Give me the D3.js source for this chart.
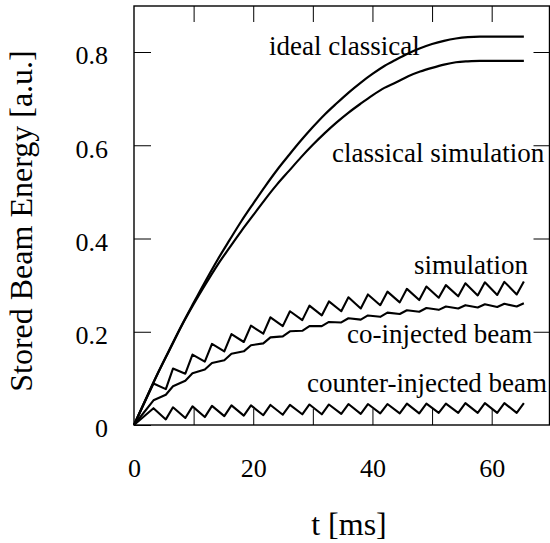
<!DOCTYPE html>
<html>
<head>
<meta charset="utf-8">
<script src="https://cdn.jsdelivr.net/npm/d3@7"></script>
<style>
  html, body { margin: 0; padding: 0; background: #fff; }
  svg { display: block; }
  text { font-family: "Liberation Serif", "Times New Roman", serif; fill: #000; }
</style>
</head>
<body>
<svg id="chart" width="550" height="543"></svg>
<script>
// ---- data ----
const tSmooth = [0,2,4,6,8,10,12,14,16,18,20,22,24,26,28,30,32,34,36,38,40,42,44,46,48,50,52,54,56,58,60,62,64,65.4];
const idealClassical = [0,0.056,0.111,0.163,0.214,0.262,0.309,0.354,0.396,0.437,0.475,0.512,0.547,0.579,0.610,0.639,0.666,0.690,0.713,0.734,0.753,0.770,0.784,0.797,0.808,0.817,0.824,0.829,0.832,0.833,0.833,0.833,0.833,0.833];
const classicalSimulation = [0,0.056,0.111,0.162,0.213,0.259,0.302,0.343,0.380,0.416,0.450,0.484,0.516,0.545,0.574,0.601,0.626,0.649,0.670,0.689,0.707,0.723,0.735,0.748,0.758,0.766,0.773,0.778,0.780,0.781,0.781,0.781,0.781,0.781];

const tPulse = [0,3.27,5.34,6.54,8.61,9.81,11.88,13.08,15.15,16.35,18.42,19.62,21.69,22.89,24.96,26.16,28.23,29.43,31.50,32.70,34.77,35.97,38.04,39.24,41.31,42.51,44.58,45.78,47.85,49.05,51.12,52.32,54.39,55.59,57.66,58.86,60.93,62.13,64.20,65.40];
const simulation = [0,0.089,0.077,0.121,0.110,0.151,0.136,0.174,0.158,0.195,0.178,0.213,0.196,0.231,0.212,0.244,0.225,0.256,0.235,0.265,0.244,0.274,0.250,0.280,0.257,0.286,0.263,0.292,0.268,0.297,0.273,0.300,0.276,0.304,0.278,0.306,0.279,0.307,0.280,0.308];
const coInjected = [0,0.053,0.065,0.083,0.095,0.111,0.119,0.133,0.139,0.153,0.158,0.171,0.175,0.188,0.190,0.201,0.202,0.212,0.212,0.221,0.220,0.229,0.226,0.235,0.232,0.241,0.238,0.246,0.243,0.251,0.247,0.254,0.250,0.257,0.252,0.259,0.253,0.260,0.254,0.261];
const counterInjected = [0,0.036,0.012,0.038,0.015,0.040,0.017,0.041,0.019,0.042,0.020,0.042,0.021,0.043,0.022,0.043,0.023,0.044,0.023,0.044,0.024,0.045,0.024,0.045,0.025,0.045,0.025,0.046,0.025,0.046,0.026,0.046,0.026,0.047,0.026,0.047,0.026,0.047,0.026,0.047];

const xTickValues = [10,20,30,40,50,60];
const xLabelValues = [0,20,40,60];
const yTickValues = [0,0.2,0.4,0.6,0.8];
const yTickLabels = ["0","0.2","0.4","0.6","0.8"];
const seriesNames = ["ideal classical","classical simulation","simulation","co-injected beam","counter-injected beam"];
const xTitle = "t [ms]";
const yTitle = "Stored Beam Energy [a.u.]";

// ---- layout ----
const svg = d3.select("#chart");
const mLeft = 134, mRight = 549.5, mTop = 6, mBottom = 425;
const x = d3.scaleLinear().domain([0, 69.7]).range([mLeft, mRight]);
const y = d3.scaleLinear().domain([0, 0.9]).range([mBottom, mBottom - 0.9 * 466.25]);

// axes
const gl = svg.append("g").attr("transform", `translate(${mLeft},0)`)
  .call(d3.axisLeft(y).tickValues(yTickValues).tickSizeInner(-17).tickSizeOuter(0).tickPadding(26)
    .tickFormat((d, i) => yTickLabels[i]));
gl.selectAll("text").attr("font-size", 26).attr("dy", "0.46em");

svg.append("g").attr("transform", `translate(${mRight},0)`)
  .call(d3.axisRight(y).tickValues(yTickValues.slice(1)).tickSizeInner(-16).tickSizeOuter(0).tickFormat(""));

svg.append("g").attr("transform", `translate(0,${mTop})`)
  .call(d3.axisTop(x).tickValues(xTickValues).tickSizeInner(-16).tickSizeOuter(0).tickFormat(""));

svg.append("g").attr("transform", `translate(0,${mBottom})`)
  .call(d3.axisBottom(x).tickValues(xTickValues).tickSizeInner(-16).tickSizeOuter(0).tickFormat(""));

const gbl = svg.append("g").attr("transform", `translate(0,${mBottom})`)
  .call(d3.axisBottom(x).tickValues(xLabelValues).tickSize(0).tickPadding(33.5).tickFormat(d3.format("d")));
gbl.selectAll("text").attr("font-size", 26);

svg.selectAll(".domain").remove();
svg.selectAll(".tick line").attr("stroke", "#000").attr("stroke-width", 1);
svg.selectAll("g text").attr("font-family", '"Liberation Serif", "Times New Roman", serif').attr("fill", "#000");

// frame
svg.append("rect").attr("x", mLeft).attr("y", mTop).attr("width", mRight - mLeft).attr("height", mBottom - mTop)
  .attr("fill", "none").attr("stroke", "#000").attr("stroke-width", 1.4);

// curves
const lineSmooth = d3.line().x(d => x(d[0])).y(d => y(d[1])).curve(d3.curveMonotoneX);
const linePulse = d3.line().x(d => x(d[0])).y(d => y(d[1])).curve(d3.curveLinear);

[idealClassical, classicalSimulation].forEach(s => {
  svg.append("path").datum(tSmooth.map((t, i) => [t, s[i]]))
    .attr("d", lineSmooth).attr("fill", "none").attr("stroke", "#000").attr("stroke-width", 2.2);
});
[simulation, coInjected, counterInjected].forEach(s => {
  svg.append("path").datum(tPulse.map((t, i) => [t, s[i]]))
    .attr("d", linePulse).attr("fill", "none").attr("stroke", "#000").attr("stroke-width", 2.1)
    .attr("stroke-linejoin", "round");
});

// annotations (pixel anchor points)
const annPos = [[269, 55], [332, 162], [414, 274], [347, 343], [307, 392]];
seriesNames.forEach((name, i) => {
  svg.append("text").attr("x", annPos[i][0]).attr("y", annPos[i][1]).attr("font-size", 27).text(name);
});

// axis titles
svg.append("text").attr("transform", "translate(32,221) rotate(-90)").attr("text-anchor", "middle")
  .attr("font-size", 32).text(yTitle);
svg.append("text").attr("x", 349).attr("y", 535).attr("text-anchor", "middle")
  .attr("font-size", 32).text(xTitle);
</script>
</body>
</html>
